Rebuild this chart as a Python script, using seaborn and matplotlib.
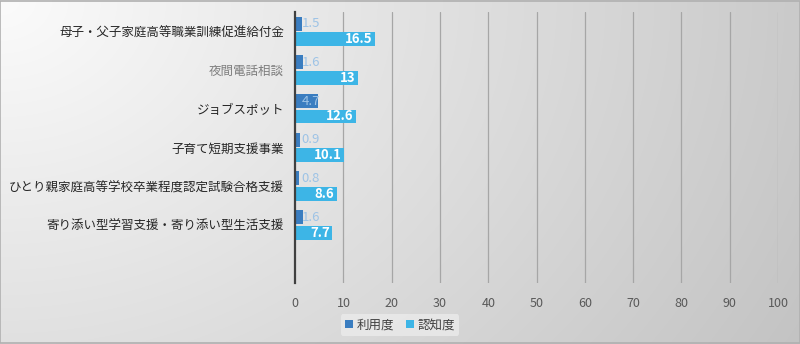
import numpy as np
import pandas as pd
import matplotlib
matplotlib.use("Agg")
import matplotlib.pyplot as plt
import seaborn as sns

categories = [
    "母子・父子家庭高等職業訓練促進給付金",
    "夜間電話相談",
    "ジョブスポット",
    "子育て短期支援事業",
    "ひとり親家庭高等学校卒業程度認定試験合格支援",
    "寄り添い型学習支援・寄り添い型生活支援",
]
usage = [1.5, 1.6, 4.7, 0.9, 0.8, 1.6]        # 利用度
awareness = [16.5, 13, 12.6, 10.1, 8.6, 7.7]  # 認知度
series_names = ["利用度", "認知度"]
x_ticks = [0, 10, 20, 30, 40, 50, 60, 70, 80, 90, 100]

sns.set_theme(style="white")
plt.rcParams["font.family"] = ["Noto Sans CJK JP", "DejaVu Sans"]

df = pd.DataFrame({
    "category": categories * 2,
    "series": [series_names[0]] * len(categories) + [series_names[1]] * len(categories),
    "value": usage + awareness,
})

c_usage = "#3A7DC0"
c_aware = "#3DB5E6"

fig = plt.figure(figsize=(8.0, 3.44), dpi=100)

# soft radial gray background, lightest at upper left
bg = fig.add_axes([0, 0, 1, 1], zorder=-10)
h, w = 344, 800
yy, xx = np.mgrid[0:h, 0:w]
d = np.sqrt((xx / w) ** 2 + (yy / h * 0.55) ** 2) / np.sqrt(1 + 0.55 ** 2)
shade = 0.985 - 0.22 * d
img = np.dstack([shade, shade, shade])
bg.imshow(img, extent=[0, 1, 0, 1], aspect="auto", origin="upper")
bg.set_xlim(0, 1)
bg.set_ylim(0, 1)
bg.axis("off")
bg.add_patch(plt.Rectangle((0.0006, 0.0015), 0.9988, 0.997, fill=False,
                           edgecolor="#b0b0b0", linewidth=1.2))

ax = fig.add_axes([0.369, 0.1773, 0.6035, 0.788])
ax.set_facecolor("none")

sns.barplot(data=df, y="category", x="value", hue="series", orient="h",
            palette=[c_usage, c_aware], width=0.8, gap=0.1,
            order=categories, hue_order=series_names, ax=ax,
            saturation=1, legend=True, zorder=3, linewidth=0,
            edgecolor="none")

ax.set_xlim(0, 100)
ax.set_ylim(6.5, -0.5)
ax.set_xticks(x_ticks)
ax.set_xticklabels([str(t) for t in x_ticks], color="#595959", fontsize=9)
ax.tick_params(axis="x", length=0, pad=10)
ax.tick_params(axis="y", length=0, pad=8)
ax.set_yticks(range(len(categories)))
ax.set_yticklabels(categories, fontsize=9)
label_colors = ["#262626", "#7f7f7f", "#262626", "#262626", "#262626", "#262626"]
for t, c in zip(ax.get_yticklabels(), label_colors):
    t.set_color(c)
ax.set_xlabel("")
ax.set_ylabel("")

for x in x_ticks[1:]:
    ax.axvline(x, color="#a6a6a6", linewidth=0.9, zorder=1)
for s in ["top", "right", "bottom"]:
    ax.spines[s].set_visible(False)
ax.spines["left"].set_color("#404040")
ax.spines["left"].set_linewidth(1.6)
ax.spines["left"].set_zorder(5)

usage_bars, aware_bars = ax.containers[0], ax.containers[1]
for bar, v in zip(usage_bars, usage):
    ax.text(1.3, bar.get_y() + bar.get_height() / 2, f"{v:g}",
            ha="left", va="center", color="#9DC3E6", fontsize=9.5, zorder=6)
for bar, v in zip(aware_bars, awareness):
    ax.text(v - 0.5, bar.get_y() + bar.get_height() / 2, f"{v:g}",
            ha="right", va="center", color="white", fontsize=9.5,
            fontweight="bold", zorder=6)

leg = ax.legend(loc="center", bbox_to_anchor=(0.5, 0.055),
                bbox_transform=fig.transFigure, ncol=2, frameon=True,
                fontsize=9, handlelength=0.6, handleheight=0.6,
                handletextpad=0.3, columnspacing=1.0, borderpad=0.35)
leg.get_frame().set_facecolor("#ebebeb")
leg.get_frame().set_edgecolor("none")
leg.get_frame().set_alpha(0.8)
for t in leg.get_texts():
    t.set_color("#404040")

fig.savefig("out.png", dpi=100)
